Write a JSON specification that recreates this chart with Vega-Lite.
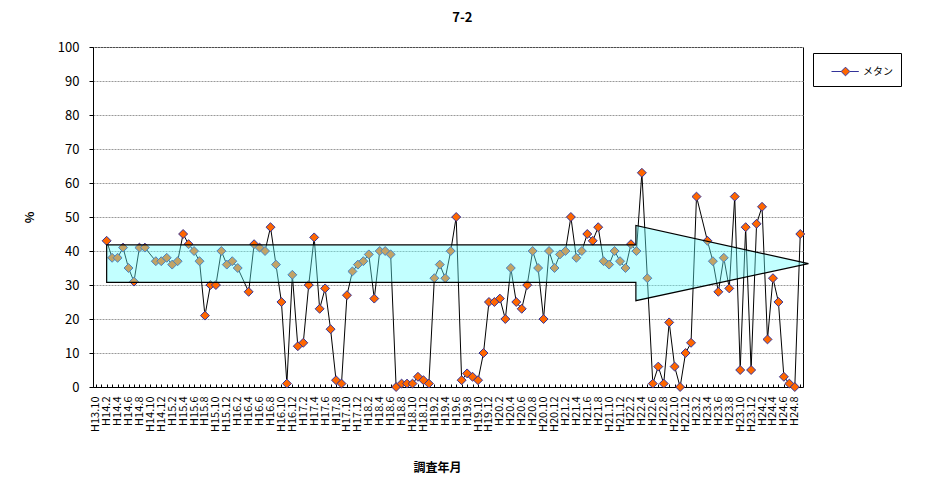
{
  "$schema": "https://vega.github.io/schema/vega-lite/v6.json",
  "width": 710,
  "height": 340,
  "autosize": "none",
  "padding": {"left": 93, "top": 47, "right": 131, "bottom": 97},
  "background": "white",
  "title": {"text": "7-2", "anchor": "middle", "frame": "bounds", "offset": 16, "fontSize": 13, "fontWeight": "bold", "font": "Noto Sans CJK JP", "color": "#000"},
  "config": {
    "font": "Noto Sans CJK JP",
    "view": {"stroke": "#000", "strokeWidth": 1},
    "axis": {"labelColor": "#000", "titleColor": "#000", "domainColor": "#000", "tickColor": "#000", "labelFont": "Noto Sans CJK JP", "titleFont": "Noto Sans CJK JP", "titleFontWeight": "bold"}
  },
  "datasets": {
    "methane": [
      {"month": "H14.2", "value": 43, "series": "メタン"},
      {"month": "H14.3", "value": 38, "series": "メタン"},
      {"month": "H14.4", "value": 38, "series": "メタン"},
      {"month": "H14.5", "value": 41, "series": "メタン"},
      {"month": "H14.6", "value": 35, "series": "メタン"},
      {"month": "H14.7", "value": 31, "series": "メタン"},
      {"month": "H14.8", "value": 41, "series": "メタン"},
      {"month": "H14.9", "value": 41, "series": "メタン"},
      {"month": "H14.11", "value": 37, "series": "メタン"},
      {"month": "H14.12", "value": 37, "series": "メタン"},
      {"month": "H15.1", "value": 38, "series": "メタン"},
      {"month": "H15.2", "value": 36, "series": "メタン"},
      {"month": "H15.3", "value": 37, "series": "メタン"},
      {"month": "H15.4", "value": 45, "series": "メタン"},
      {"month": "H15.5", "value": 42, "series": "メタン"},
      {"month": "H15.6", "value": 40, "series": "メタン"},
      {"month": "H15.7", "value": 37, "series": "メタン"},
      {"month": "H15.8", "value": 21, "series": "メタン"},
      {"month": "H15.9", "value": 30, "series": "メタン"},
      {"month": "H15.10", "value": 30, "series": "メタン"},
      {"month": "H15.11", "value": 40, "series": "メタン"},
      {"month": "H15.12", "value": 36, "series": "メタン"},
      {"month": "H16.1", "value": 37, "series": "メタン"},
      {"month": "H16.2", "value": 35, "series": "メタン"},
      {"month": "H16.4", "value": 28, "series": "メタン"},
      {"month": "H16.5", "value": 42, "series": "メタン"},
      {"month": "H16.6", "value": 41, "series": "メタン"},
      {"month": "H16.7", "value": 40, "series": "メタン"},
      {"month": "H16.8", "value": 47, "series": "メタン"},
      {"month": "H16.9", "value": 36, "series": "メタン"},
      {"month": "H16.10", "value": 25, "series": "メタン"},
      {"month": "H16.11", "value": 1, "series": "メタン"},
      {"month": "H16.12", "value": 33, "series": "メタン"},
      {"month": "H17.1", "value": 12, "series": "メタン"},
      {"month": "H17.2", "value": 13, "series": "メタン"},
      {"month": "H17.3", "value": 30, "series": "メタン"},
      {"month": "H17.4", "value": 44, "series": "メタン"},
      {"month": "H17.5", "value": 23, "series": "メタン"},
      {"month": "H17.6", "value": 29, "series": "メタン"},
      {"month": "H17.7", "value": 17, "series": "メタン"},
      {"month": "H17.8", "value": 2, "series": "メタン"},
      {"month": "H17.9", "value": 1, "series": "メタン"},
      {"month": "H17.10", "value": 27, "series": "メタン"},
      {"month": "H17.11", "value": 34, "series": "メタン"},
      {"month": "H17.12", "value": 36, "series": "メタン"},
      {"month": "H18.1", "value": 37, "series": "メタン"},
      {"month": "H18.2", "value": 39, "series": "メタン"},
      {"month": "H18.3", "value": 26, "series": "メタン"},
      {"month": "H18.4", "value": 40, "series": "メタン"},
      {"month": "H18.5", "value": 40, "series": "メタン"},
      {"month": "H18.6", "value": 39, "series": "メタン"},
      {"month": "H18.7", "value": 0, "series": "メタン"},
      {"month": "H18.8", "value": 1, "series": "メタン"},
      {"month": "H18.9", "value": 1, "series": "メタン"},
      {"month": "H18.10", "value": 1, "series": "メタン"},
      {"month": "H18.11", "value": 3, "series": "メタン"},
      {"month": "H18.12", "value": 2, "series": "メタン"},
      {"month": "H19.1", "value": 1, "series": "メタン"},
      {"month": "H19.2", "value": 32, "series": "メタン"},
      {"month": "H19.3", "value": 36, "series": "メタン"},
      {"month": "H19.4", "value": 32, "series": "メタン"},
      {"month": "H19.5", "value": 40, "series": "メタン"},
      {"month": "H19.6", "value": 50, "series": "メタン"},
      {"month": "H19.7", "value": 2, "series": "メタン"},
      {"month": "H19.8", "value": 4, "series": "メタン"},
      {"month": "H19.9", "value": 3, "series": "メタン"},
      {"month": "H19.10", "value": 2, "series": "メタン"},
      {"month": "H19.11", "value": 10, "series": "メタン"},
      {"month": "H19.12", "value": 25, "series": "メタン"},
      {"month": "H20.1", "value": 25, "series": "メタン"},
      {"month": "H20.2", "value": 26, "series": "メタン"},
      {"month": "H20.3", "value": 20, "series": "メタン"},
      {"month": "H20.4", "value": 35, "series": "メタン"},
      {"month": "H20.5", "value": 25, "series": "メタン"},
      {"month": "H20.6", "value": 23, "series": "メタン"},
      {"month": "H20.7", "value": 30, "series": "メタン"},
      {"month": "H20.8", "value": 40, "series": "メタン"},
      {"month": "H20.9", "value": 35, "series": "メタン"},
      {"month": "H20.10", "value": 20, "series": "メタン"},
      {"month": "H20.11", "value": 40, "series": "メタン"},
      {"month": "H20.12", "value": 35, "series": "メタン"},
      {"month": "H21.1", "value": 39, "series": "メタン"},
      {"month": "H21.2", "value": 40, "series": "メタン"},
      {"month": "H21.3", "value": 50, "series": "メタン"},
      {"month": "H21.4", "value": 38, "series": "メタン"},
      {"month": "H21.5", "value": 40, "series": "メタン"},
      {"month": "H21.6", "value": 45, "series": "メタン"},
      {"month": "H21.7", "value": 43, "series": "メタン"},
      {"month": "H21.8", "value": 47, "series": "メタン"},
      {"month": "H21.9", "value": 37, "series": "メタン"},
      {"month": "H21.10", "value": 36, "series": "メタン"},
      {"month": "H21.11", "value": 40, "series": "メタン"},
      {"month": "H21.12", "value": 37, "series": "メタン"},
      {"month": "H22.1", "value": 35, "series": "メタン"},
      {"month": "H22.2", "value": 42, "series": "メタン"},
      {"month": "H22.3", "value": 40, "series": "メタン"},
      {"month": "H22.4", "value": 63, "series": "メタン"},
      {"month": "H22.5", "value": 32, "series": "メタン"},
      {"month": "H22.6", "value": 1, "series": "メタン"},
      {"month": "H22.7", "value": 6, "series": "メタン"},
      {"month": "H22.8", "value": 1, "series": "メタン"},
      {"month": "H22.9", "value": 19, "series": "メタン"},
      {"month": "H22.10", "value": 6, "series": "メタン"},
      {"month": "H22.11", "value": 0, "series": "メタン"},
      {"month": "H22.12", "value": 10, "series": "メタン"},
      {"month": "H23.1", "value": 13, "series": "メタン"},
      {"month": "H23.2", "value": 56, "series": "メタン"},
      {"month": "H23.4", "value": 43, "series": "メタン"},
      {"month": "H23.5", "value": 37, "series": "メタン"},
      {"month": "H23.6", "value": 28, "series": "メタン"},
      {"month": "H23.7", "value": 38, "series": "メタン"},
      {"month": "H23.8", "value": 29, "series": "メタン"},
      {"month": "H23.9", "value": 56, "series": "メタン"},
      {"month": "H23.10", "value": 5, "series": "メタン"},
      {"month": "H23.11", "value": 47, "series": "メタン"},
      {"month": "H23.12", "value": 5, "series": "メタン"},
      {"month": "H24.1", "value": 48, "series": "メタン"},
      {"month": "H24.2", "value": 53, "series": "メタン"},
      {"month": "H24.3", "value": 14, "series": "メタン"},
      {"month": "H24.4", "value": 32, "series": "メタン"},
      {"month": "H24.5", "value": 25, "series": "メタン"},
      {"month": "H24.6", "value": 3, "series": "メタン"},
      {"month": "H24.7", "value": 1, "series": "メタン"},
      {"month": "H24.8", "value": 0, "series": "メタン"},
      {"month": "H24.9", "value": 45, "series": "メタン"}
    ],
    "arrow": [
      {"ax": 2.0, "lo": 30.8, "hi": 41.8},
      {"ax": 98.9, "lo": 30.8, "hi": 41.8},
      {"ax": 98.9, "lo": 25.4, "hi": 47.5},
      {"ax": 130.5, "lo": 36.3, "hi": 36.3}
    ]
  },
  "layer": [
    {
      "data": {"name": "methane"},
      "layer": [
        {
          "mark": {"type": "line", "color": "#000", "strokeWidth": 1},
          "encoding": {
            "x": {
              "field": "month", "type": "ordinal", "sort": null,
              "scale": {"type": "point", "padding": 0.5, "domain": ["H13.10","H14.1","H14.2","H14.3","H14.4","H14.5","H14.6","H14.7","H14.8","H14.9","H14.10","H14.11","H14.12","H15.1","H15.2","H15.3","H15.4","H15.5","H15.6","H15.7","H15.8","H15.9","H15.10","H15.11","H15.12","H16.1","H16.2","H16.3","H16.4","H16.5","H16.6","H16.7","H16.8","H16.9","H16.10","H16.11","H16.12","H17.1","H17.2","H17.3","H17.4","H17.5","H17.6","H17.7","H17.8","H17.9","H17.10","H17.11","H17.12","H18.1","H18.2","H18.3","H18.4","H18.5","H18.6","H18.7","H18.8","H18.9","H18.10","H18.11","H18.12","H19.1","H19.2","H19.3","H19.4","H19.5","H19.6","H19.7","H19.8","H19.9","H19.10","H19.11","H19.12","H20.1","H20.2","H20.3","H20.4","H20.5","H20.6","H20.7","H20.8","H20.9","H20.10","H20.11","H20.12","H21.1","H21.2","H21.3","H21.4","H21.5","H21.6","H21.7","H21.8","H21.9","H21.10","H21.11","H21.12","H22.1","H22.2","H22.3","H22.4","H22.5","H22.6","H22.7","H22.8","H22.9","H22.10","H22.11","H22.12","H23.1","H23.2","H23.3","H23.4","H23.5","H23.6","H23.7","H23.8","H23.9","H23.10","H23.11","H23.12","H24.1","H24.2","H24.3","H24.4","H24.5","H24.6","H24.7","H24.8","H24.9"]},
              "axis": {
                "title": "調査年月", "titleFontSize": 12, "titlePadding": 31, "titleX": 344,
                "labelAngle": -90, "labelFontSize": 11, "labelPadding": 12,
                "labelExpr": "test(/\\.(1|3|5|7|9|11)$/, datum.label) ? '' : datum.label",
                "tickSize": -3, "grid": false, "labelOverlap": false
              }
            },
            "y": {
              "field": "value", "type": "quantitative",
              "scale": {"domain": [0, 100], "nice": false},
              "axis": {
                "title": "%", "titleFontSize": 12, "titlePadding": 21,
                "values": [0, 10, 20, 30, 40, 50, 60, 70, 80, 90, 100], "tickCount": 20,
                "labelFontSize": 13, "labelPadding": 10, "tickSize": 4, "labelOverlap": false,
                "grid": true, "gridColor": "#999", "gridDash": [2, 1], "gridWidth": 1
              }
            },
            "order": {"value": null}
          }
        },
        {
          "mark": {"type": "point", "shape": "diamond", "filled": true, "size": 80, "stroke": "#333399", "strokeWidth": 1, "opacity": 1},
          "encoding": {
            "x": {"field": "month", "type": "ordinal", "sort": null},
            "y": {
              "field": "value", "type": "quantitative",
              "axis": {
                "title": "%", "titleFontSize": 12, "titlePadding": 21,
                "values": [0, 10, 20, 30, 40, 50, 60, 70, 80, 90, 100], "tickCount": 20,
                "labelFontSize": 13, "labelPadding": 10, "tickSize": 4, "labelOverlap": false,
                "grid": true, "gridColor": "#999", "gridDash": [2, 1], "gridWidth": 1
              }
            },
            "fill": {
              "field": "series", "type": "nominal",
              "scale": {"range": ["#FF6600"]},
              "legend": {
                "title": null, "orient": "none", "legendX": 720, "legendY": 6,
                "strokeColor": "#000", "fillColor": "#fff", "padding": 8,
                "symbolType": "M0,0H0.965M1.835,0H2.73M1.4,-0.435L1.835,0L1.4,0.435L0.965,0Z",
                "symbolSize": 400, "symbolStrokeColor": "#333399", "symbolStrokeWidth": 1,
                "labelOffset": 21, "labelFontSize": 10, "labelFont": "Noto Sans CJK JP", "labelColor": "#000"
              }
            }
          }
        }
      ]
    },
    {
      "data": {"name": "arrow"},
      "mark": {"type": "area", "fill": "#66FFFF", "fillOpacity": 0.4, "stroke": "#000", "strokeWidth": 1.2, "interpolate": "linear"},
      "encoding": {
        "x": {"field": "ax", "type": "quantitative", "scale": {"domain": [-0.5, 129.5], "nice": false, "zero": false}, "axis": null},
        "y": {
          "field": "hi", "type": "quantitative",
          "axis": {
            "title": "%", "titleFontSize": 12, "titlePadding": 21,
            "values": [0, 10, 20, 30, 40, 50, 60, 70, 80, 90, 100], "tickCount": 20,
            "labelFontSize": 13, "labelPadding": 10, "tickSize": 4, "labelOverlap": false,
            "grid": true, "gridColor": "#999", "gridDash": [2, 1], "gridWidth": 1
          }
        },
        "y2": {"field": "lo"},
        "order": {"value": null}
      }
    }
  ],
  "resolve": {"scale": {"x": "independent"}}
}
